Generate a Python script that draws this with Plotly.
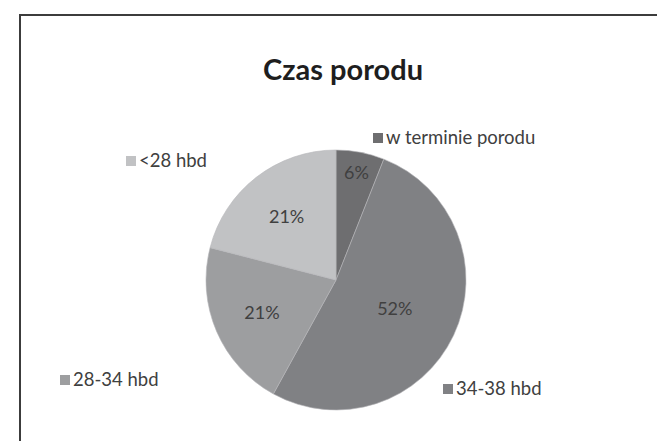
import plotly.graph_objects as go

# ---- data ----
categories = ["w terminie porodu", "34-38 hbd", "28-34 hbd", "<28 hbd"]
values = [6, 52, 21, 21]
colors = ["#6e6e70", "#808184", "#9d9ea0", "#c1c2c4"]
title_text = "Czas porodu"

# ---- layout helpers (pixel -> paper) ----
W, H = 665, 441
def px(x):
    return x / W
def py(y):
    return 1 - y / H

# label anchor positions (square left, centre y) in pixels
label_pos = [(365, 130), (435, 381), (52, 372), (118, 153)]
SQ = 10
FONT = "Lato, 'Open Sans', sans-serif"
TXT = "#404040"

# pie geometry in pixels
cx, cy, r = 328, 272, 130

fig = go.Figure()
fig.add_trace(go.Pie(
    labels=categories,
    values=values,
    sort=False,
    direction="clockwise",
    rotation=0,
    marker=dict(colors=colors, line=dict(color="#b5b6b8", width=0.6)),
    textinfo="percent",
    textposition="inside",
    insidetextorientation="horizontal",
    textfont=dict(family=FONT, size=18, color=TXT),
    showlegend=False,
    hoverinfo="label+percent",
    domain=dict(x=[px(cx - r), px(cx + r)], y=[py(cy + r), py(cy - r)]),
))

shapes = [
    dict(type="rect", xref="paper", yref="paper",
         x0=px(12), x1=px(657), y0=-0.05, y1=py(7),
         line=dict(color="#3c3c3c", width=2), fillcolor="rgba(0,0,0,0)"),
]
annotations = [
    dict(text="<b>" + title_text + "</b>", xref="paper", yref="paper",
         x=px(334.5), y=py(61), xanchor="center", yanchor="middle",
         showarrow=False, font=dict(family=FONT, size=29, color="#1e1e1e")),
]
for cat, col, (lx, ly) in zip(categories, colors, label_pos):
    shapes.append(dict(type="rect", xref="paper", yref="paper",
                       x0=px(lx), x1=px(lx + SQ), y0=py(ly + SQ / 2), y1=py(ly - SQ / 2),
                       line=dict(width=0), fillcolor=col))
    annotations.append(dict(text=cat, xref="paper", yref="paper",
                            x=px(lx + SQ + 1), y=py(ly - 1), xanchor="left", yanchor="middle",
                            showarrow=False,
                            font=dict(family=FONT, size=18.5, color=TXT)))

fig.update_layout(
    width=W, height=H,
    margin=dict(l=0, r=0, t=0, b=0),
    paper_bgcolor="white",
    plot_bgcolor="white",
    shapes=shapes,
    annotations=annotations,
)

fig.write_html("out.html")
